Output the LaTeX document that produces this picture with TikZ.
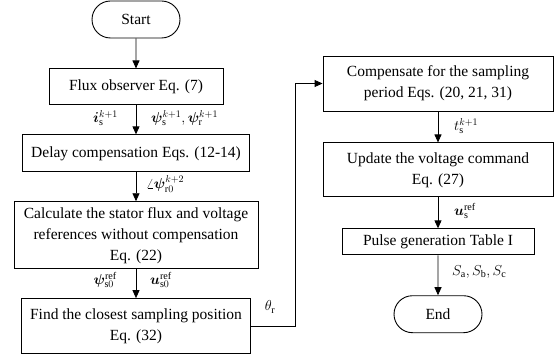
\documentclass[tikz,border=0pt]{standalone}
\usepackage{fontspec}
\setmainfont{Liberation Serif}
\usepackage{amsmath,bm}
\usetikzlibrary{arrows.meta,positioning,shapes.misc}
\newcommand{\vb}[1]{\bm{#1}}
\tikzset{
  blk/.style={draw,line width=0.9pt,align=center,inner sep=2pt,font=\fontsize{15.5}{21}\selectfont},
  term/.style={blk,rounded rectangle,minimum width=92pt,minimum height=37pt},
  ar/.style={-{Triangle[length=8pt,width=7pt]},line width=0.9pt},
  lbl/.style={font=\fontsize{14.5}{17}\selectfont,inner sep=0pt},
}
\begin{document}
\begin{tikzpicture}[x=1pt,y=-1pt,node distance=29pt]
\useasboundingbox (0,0) rectangle (559,358);
% left column
\node[term] (start) at (136,19.5) {Start};
\node[blk,minimum width=174pt,minimum height=36pt,below=30pt of start] (flux) {Flux observer Eq. (7)};
\node[blk,minimum width=227pt,minimum height=37pt,below=of flux] (delay) {Delay compensation Eqs. (12-14)};
\node[blk,minimum width=244pt,minimum height=67pt,below=of delay] (calc) {Calculate the stator flux and voltage\\references without compensation\\Eq. (22)};
\node[blk,minimum width=229pt,minimum height=55pt,below=of calc] (find) {Find the closest sampling position\\Eq. (32)};
% right column
\node[blk,minimum width=230pt,minimum height=55pt] (comp) at (438,83.5) {Compensate for the sampling\\period Eqs. (20, 21, 31)};
\node[blk,minimum width=230pt,minimum height=54pt,below=31pt of comp] (upd) {Update the voltage command\\Eq. (27)};
\node[blk,minimum width=192pt,minimum height=26pt,below=31pt of upd] (pulse) {Pulse generation Table I};
\node[term,below=40pt of pulse] (end) {End};
\draw[ar] (start) -- (flux);
\draw[ar] (flux) -- (delay);
\draw[ar] (delay) -- (calc);
\draw[ar] (calc) -- (find);
\draw[ar] (comp) -- (upd);
\draw[ar] (upd) -- (pulse);
\draw[ar] (pulse) -- (end);
\coordinate (bend) at (295,0);
\draw[ar] (find.east) -- (find.east -| bend) -- (comp.west -| bend) -- (comp.west);
% labels
\node[lbl,anchor=east] (li) at (118,118) {$\vb{i}_{\mathrm{s}}^{k+1}$};
\node[lbl,anchor=west] (lpsi) at (151,118) {$\vb{\psi}_{\mathrm{s}}^{k+1},\vb{\psi}_{\mathrm{r}}^{k+1}$};
\node[lbl,anchor=west] (lang) at (146,184) {$\angle\vb{\psi}_{\mathrm{r}0}^{k+2}$};
\node[lbl,anchor=east] (lpsiref) at (117,280) {$\vb{\psi}_{\mathrm{s}0}^{\mathrm{ref}}$};
\node[lbl,anchor=west] (luref) at (150,280) {$\vb{u}_{\mathrm{s}0}^{\mathrm{ref}}$};
\node[lbl] (ltheta) at (270,307) {$\theta_{\mathrm{r}}$};
\node[lbl,anchor=west] (lt) at (454,126) {$t_{\mathrm{s}}^{k+1}$};
\node[lbl,anchor=west] (lus) at (454,211) {$\vb{u}_{\mathrm{s}}^{\mathrm{ref}}$};
\node[lbl,anchor=west] (lS) at (452,272) {$S_{\mathrm{a}},S_{\mathrm{b}},S_{\mathrm{c}}$};
\end{tikzpicture}
\end{document}
